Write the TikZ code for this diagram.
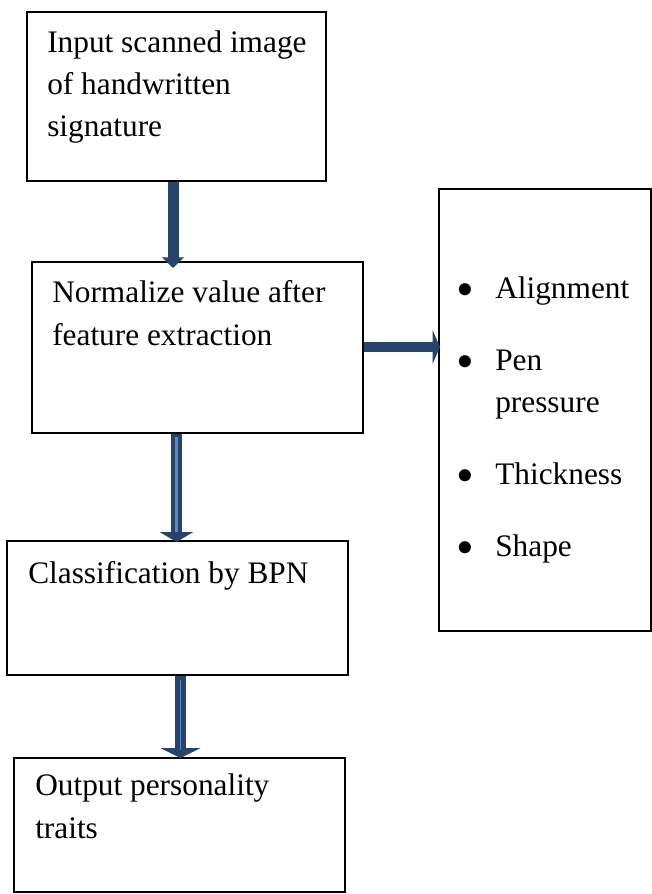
\documentclass[tikz,border=0pt]{standalone}
\usepackage{fontspec}
\setmainfont{Liberation Serif}
\usetikzlibrary{arrows.meta}
\definecolor{navy}{HTML}{27446B}
\definecolor{streak}{HTML}{5B8BC6}
\begin{document}
\begin{tikzpicture}[x=0.75pt,y=-0.75pt,
  box/.style={draw=black,line width=1.4pt,inner sep=0pt,anchor=north west},
  txt/.style={anchor=base west,inner sep=0pt,font=\fontsize{23.5}{31.5}\selectfont},
  blt/.style={anchor=center,inner sep=0pt,font=\fontsize{38}{40}\selectfont},
  flow/.style={draw=navy,line width=8.25pt},
  shine/.style={draw=streak,line width=1.8pt},
]
% page
\fill[white] (0,0) rectangle (651,894);
\useasboundingbox (0,0) rectangle (651,894);

% process boxes
\node[box,minimum width=224.25pt,minimum height=126.75pt] (b1) at (26,11) {};
\node[box,minimum width=248.25pt,minimum height=128.25pt] (b2) at (31,261) {};
\node[box,minimum width=255.75pt,minimum height=100.5pt] (b3) at (6,540) {};
\node[box,minimum width=248.25pt,minimum height=100.5pt] (b4) at (13,757) {};
\node[box,minimum width=159pt,minimum height=331.5pt] (feat) at (438,188) {};

% box texts
\node[txt] (t1a) at (47,52) {Input scanned image};
\node[txt] (t1b) at (47,94) {of handwritten};
\node[txt] (t1c) at (47,136) {signature};
\node[txt] (t2a) at (52,302) {Normalize value after};
\node[txt] (t2b) at (52,345) {feature extraction};
\node[txt] (t3a) at (28,583) {Classification by BPN};
\node[txt] (t4a) at (35,795) {Output personality};
\node[txt] (t4b) at (35,838) {traits};

% feature list
\node[blt] (d1) at (465,295) {\textbullet};
\node[txt] (f1) at (495,298) {Alignment};
\node[blt] (d2) at (465,367) {\textbullet};
\node[txt] (f2a) at (495,370) {Pen};
\node[txt] (f2b) at (495,412) {pressure};
\node[blt] (d3) at (465,481) {\textbullet};
\node[txt] (f3) at (495,484) {Thickness};
\node[blt] (d4) at (465,553) {\textbullet};
\node[txt] (f4) at (495,556) {Shape};

% arrow axes
\coordinate (x1) at (173,0);
\coordinate (x2) at (176.5,0);
\coordinate (x3) at (180.5,0);
\coordinate (yr) at (0,347);

% block arrows
\draw[flow,-{Triangle[length=8pt,width=16pt]},shorten >=-5.25pt]
  (b1.south -| x1) -- (b2.north -| x1);
\draw[flow,-{Triangle[length=7.5pt,width=25pt]},shorten >=-1.5pt]
  (b2.south -| x2) -- (b3.north -| x2);
\draw[shine,shorten <=2.5pt,shorten >=6pt]
  (b2.south -| x2) -- (b3.north -| x2);
\draw[flow,-{Triangle[length=7.5pt,width=30pt]},shorten >=-0.75pt]
  (b3.south -| x3) -- (b4.north -| x3);
\draw[shine,line width=1.3pt,shorten <=3pt,shorten >=5.25pt]
  (b3.south -| x3) -- (b4.north -| x3);
\draw[flow,line width=7.5pt,-{Triangle[length=5.5pt,width=25pt]},shorten >=-1.5pt]
  (b2.east |- yr) -- (feat.west |- yr);
\end{tikzpicture}
\end{document}
